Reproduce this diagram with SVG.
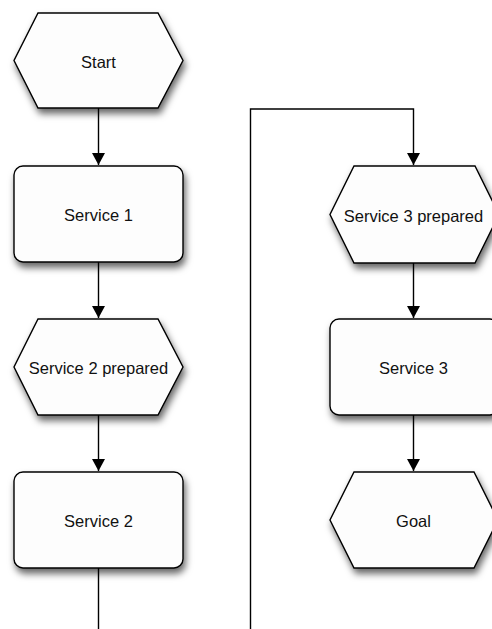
<svg xmlns="http://www.w3.org/2000/svg" width="492" height="629" viewBox="0 0 492 629">
  <defs>
    <filter id="shadow" x="-20%" y="-20%" width="150%" height="160%">
      <feDropShadow dx="2" dy="5" stdDeviation="3.5" flood-color="#000" flood-opacity="0.6"/>
    </filter>
    <marker id="arrow" viewBox="0 0 12 13" refX="12" refY="6.5" markerWidth="12" markerHeight="13" markerUnits="userSpaceOnUse" orient="auto">
      <path d="M0,0 L12,6.5 L0,13 Z" fill="#000"/>
    </marker>
  </defs>
  <style>
    .shape { fill: #fdfdfd; stroke: #000; stroke-width: 1.4; filter: url(#shadow); }
    .label { font-family: "Liberation Sans", Arial, sans-serif; font-size: 16.5px; fill: #111; text-anchor: middle; }
    .edge { fill: none; stroke: #000; stroke-width: 1.4; }
  </style>
  <rect width="492" height="629" fill="#fff"/>

  <!-- connectors -->
  <g id="connectors">
    <path class="edge" d="M98.5,108 V165" marker-end="url(#arrow)"/>
    <path class="edge" d="M98.5,262 V318" marker-end="url(#arrow)"/>
    <path class="edge" d="M98.5,415 V471" marker-end="url(#arrow)"/>
    <path class="edge" d="M98.5,568 V629.8 H250.5 V109 H413.5 V165" marker-end="url(#arrow)"/>
    <path class="edge" d="M413.5,263 V318" marker-end="url(#arrow)"/>
    <path class="edge" d="M413.5,415 V471" marker-end="url(#arrow)"/>
  </g>

  <g id="start">
    <polygon class="shape" points="38,13 158,13 183,60.5 158,108 38,108 14,60.5"/>
    <text class="label" x="98.5" y="67.5">Start</text>
  </g>

  <g id="service1">
    <rect class="shape" x="14" y="166" width="169" height="96" rx="9" ry="9"/>
    <text class="label" x="98.5" y="221">Service 1</text>
  </g>

  <g id="service2-prepared">
    <polygon class="shape" points="38,319 158,319 183,367 158,415 38,415 14,367"/>
    <text class="label" x="98.5" y="374">Service 2 prepared</text>
  </g>

  <g id="service2">
    <rect class="shape" x="14" y="472" width="169" height="96" rx="9" ry="9"/>
    <text class="label" x="98.5" y="527">Service 2</text>
  </g>

  <g id="service3-prepared">
    <polygon class="shape" points="354,166 475,166 499,214.5 475,263 354,263 330,214.5"/>
    <text class="label" x="413.5" y="221.5">Service 3 prepared</text>
  </g>

  <g id="service3">
    <rect class="shape" x="330" y="319" width="169" height="96" rx="9" ry="9"/>
    <text class="label" x="413.5" y="374">Service 3</text>
  </g>

  <g id="goal">
    <polygon class="shape" points="354,472 474,472 498,520 474,568 354,568 330,520"/>
    <text class="label" x="413.5" y="527">Goal</text>
  </g>
</svg>
